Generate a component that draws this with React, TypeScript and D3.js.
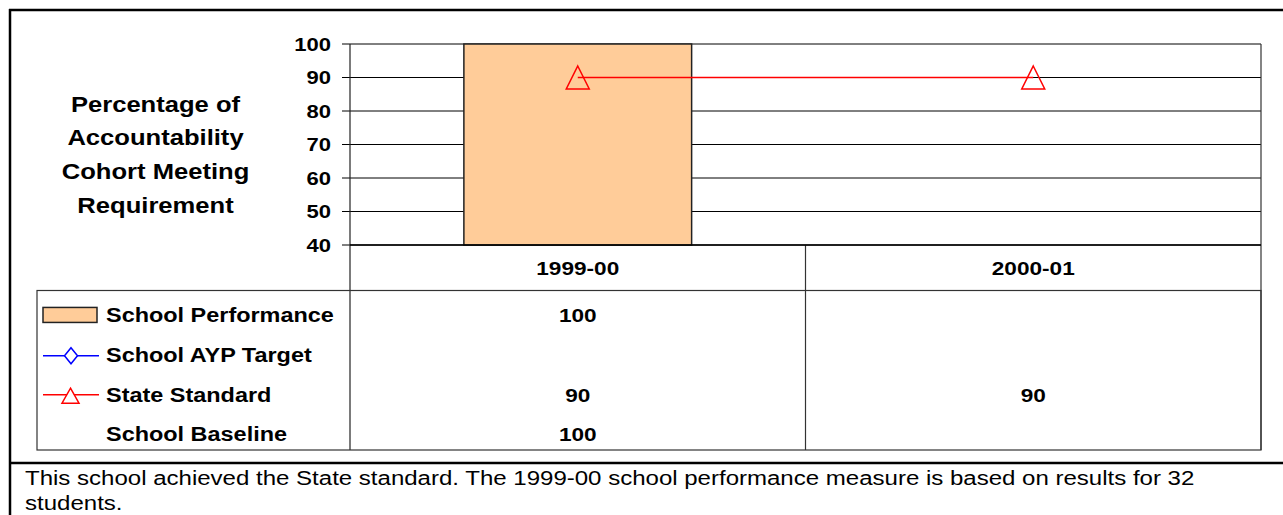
import React from 'react';
import * as d3 from 'd3';

// chart values
const categories = ['1999-00', '2000-01'];
const schoolPerformance = [100, null];
const schoolAypTarget = [null, null];
const stateStandard = [90, 90];
const schoolBaseline = [100, null];

const yTicks = [40, 50, 60, 70, 80, 90, 100];
const titleLines = ['Percentage of', 'Accountability', 'Cohort Meeting', 'Requirement'];
const footerLines = [
  'This school achieved the State standard. The 1999-00 school performance measure is based on results for 32',
  'students.',
];

const W = 1283;
const H = 515;
const FONT = '"Liberation Sans", Arial, sans-serif';
const SX = 1.19; // the source is drawn a bit wider than tall

const T = ({ x, y, children, anchor = 'middle', size = 19, weight = 'bold' }) => (
  <text
    transform={`translate(${x},${y}) scale(${SX},1)`}
    textAnchor={anchor}
    dominantBaseline="central"
    fontFamily={FONT}
    fontSize={size}
    fontWeight={weight}
    fill="#000"
  >
    {children}
  </text>
);

const App = () => {
  // plot area
  const margin = { top: 44, left: 350, right: 1261, bottom: 245 };
  const axisRowBottom = 290.5;
  const tableLeft = 37;
  const tableBottom = 450;

  const x = d3.scaleBand().domain(categories).range([margin.left, margin.right]).paddingInner(0);
  const y = d3.scaleLinear().domain([40, 100]).range([margin.bottom, margin.top]);
  const cx = (c) => x(c) + x.bandwidth() / 2;
  const barW = x.bandwidth() * 0.5;

  const rows = [
    { name: 'School Performance', values: schoolPerformance },
    { name: 'School AYP Target', values: schoolAypTarget },
    { name: 'State Standard', values: stateStandard },
    { name: 'School Baseline', values: schoolBaseline },
  ];
  const rowY = d3.scaleBand().domain(rows.map(r => r.name)).range([axisRowBottom + 4.5, tableBottom + 4.5]);
  const ry = (name) => rowY(name) + rowY.bandwidth() / 2;

  const stdPoints = categories
    .map((c, i) => [cx(c), stateStandard[i]])
    .filter(d => d[1] != null)
    .map(d => [d[0], y(d[1])]);
  const line = d3.line();

  const tri = (px, py, w, h) =>
    `M${px},${py - h / 2}L${px + w / 2},${py + h / 2}L${px - w / 2},${py + h / 2}Z`;

  return (
    <svg width={W} height={H} style={{ position: 'absolute', left: 0, top: 0, background: '#fff' }}>
      {/* outer frame */}
      <line x1={9} x2={W} y1={10} y2={10} stroke="#000" strokeWidth={2.5} />
      <line x1={10} x2={10} y1={9} y2={H} stroke="#000" strokeWidth={2.5} />
      <line x1={9} x2={W} y1={463} y2={463} stroke="#000" strokeWidth={2.5} />

      {/* y title */}
      {titleLines.map((t, i) => (
        <T key={t} x={155.5} y={104.5 + i * 33.6} size={21.5}>{t}</T>
      ))}

      {/* gridlines + ticks */}
      {yTicks.map(t => (
        <g key={t}>
          <line x1={342} x2={margin.right} y1={y(t)} y2={y(t)} stroke="#000" strokeWidth={1} />
          <T x={331} y={y(t) + 0.5} anchor="end" size={18.5}>{t}</T>
        </g>
      ))}

      {/* bars */}
      {categories.map((c, i) =>
        schoolPerformance[i] == null ? null : (
          <rect
            key={c}
            x={cx(c) - barW / 2}
            y={y(schoolPerformance[i])}
            width={barW}
            height={y(40) - y(schoolPerformance[i])}
            fill="#FFCC99"
            stroke="#222"
            strokeWidth={1.5}
          />
        )
      )}

      {/* state standard line */}
      <path d={line(stdPoints)} fill="none" stroke="#FF0000" strokeWidth={1.5} />
      {stdPoints.map((p, i) => (
        <path key={i} d={tri(p[0], p[1], 23, 23)} fill="none" stroke="#FF0000" strokeWidth={1.5} />
      ))}

      {/* plot/table frame */}
      <line x1={margin.left} x2={margin.left} y1={margin.top} y2={tableBottom} stroke="#222" strokeWidth={1.2} />
      <line x1={margin.right} x2={margin.right} y1={margin.top} y2={tableBottom} stroke="#333" strokeWidth={1.2} />
      <line x1={x(categories[1])} x2={x(categories[1])} y1={margin.bottom} y2={tableBottom} stroke="#333" strokeWidth={1.2} />
      <line x1={margin.left} x2={margin.right} y1={margin.bottom} y2={margin.bottom} stroke="#000" strokeWidth={1.5} />
      <rect x={tableLeft} y={axisRowBottom} width={margin.right - tableLeft} height={tableBottom - axisRowBottom} fill="none" stroke="#333" strokeWidth={1.2} />

      {/* category labels */}
      {categories.map(c => (
        <T key={c} x={cx(c)} y={(margin.bottom + axisRowBottom) / 2 + 0.5}>{c}</T>
      ))}

      {/* data table */}
      {rows.map(r => (
        <g key={r.name}>
          <T x={106} y={ry(r.name)} anchor="start" size={19.7}>{r.name}</T>
          {r.values.map((v, i) =>
            v == null ? null : (
              <T key={i} x={cx(categories[i])} y={ry(r.name)}>{v}</T>
            )
          )}
        </g>
      ))}

      {/* legend keys */}
      <rect x={43} y={ry(rows[0].name) - 7.5} width={54} height={15} fill="#FFCC99" stroke="#222" strokeWidth={1.5} />
      <line x1={43} x2={99} y1={ry(rows[1].name) + 1} y2={ry(rows[1].name) + 1} stroke="#0000FF" strokeWidth={1.5} />
      <path
        d={`M71,${ry(rows[1].name) - 7}L77.5,${ry(rows[1].name) + 1}L71,${ry(rows[1].name) + 9}L64.5,${ry(rows[1].name) + 1}Z`}
        fill="#fff"
        stroke="#0000FF"
        strokeWidth={1.5}
      />
      <line x1={43} x2={99} y1={ry(rows[2].name)} y2={ry(rows[2].name)} stroke="#FF0000" strokeWidth={1.5} />
      <path d={tri(70.5, ry(rows[2].name) + 1, 17, 15)} fill="#fff" stroke="#FF0000" strokeWidth={1.5} />

      {/* footer note */}
      {footerLines.map((t, i) => (
        <T key={i} x={25} y={478 + i * 25} anchor="start" size={20.2} weight="normal">{t}</T>
      ))}
    </svg>
  );
};

export default App;
